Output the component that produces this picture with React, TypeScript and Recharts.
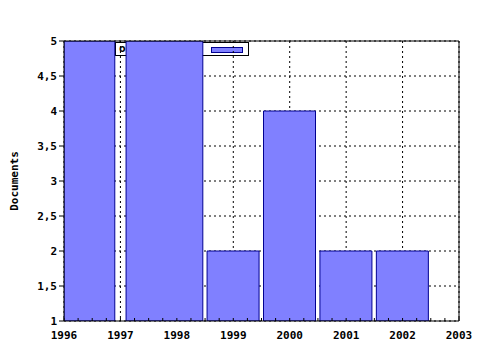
import React from 'react';
import { ComposedChart, Bar, XAxis, YAxis, CartesianGrid, ReferenceArea, Legend } from 'recharts';

const years = [1999, 2000, 2001, 2002];
const documents = [2, 4, 2, 2];

// the two early bars run past the top of the scale, only their extent is visible
const clippedFrom = [1996, 1997.1];
const clippedTo = [1996.9, 1998.46];
const clippedTop = [5, 5];

const xTicks = [1996, 1997, 1998, 1999, 2000, 2001, 2002, 2003];
const yTicks = [1, 1.5, 2, 2.5, 3, 3.5, 4, 4.5, 5];
const seriesName = 'occurrences';

const BAR_FILL = '#8080ff';
const BAR_STROKE = '#000090';
const FONT = '"DejaVu Sans Mono", monospace';

// quarter-year minor ticks between the labelled years
const minorTicks = xTicks.flatMap((t, i) =>
  i < xTicks.length - 1 ? [t, t + 0.25, t + 0.5, t + 0.75] : [t]
);

const data = years.map((year, i) => ({ year, documents: documents[i] }));

const tickStyle = { fill: '#000', fontFamily: FONT, fontWeight: 'bold', fontSize: 11 };

const LegendBox = () => (
  <div
    style={{
      width: 132,
      height: 12,
      border: '1px solid #000',
      background: '#fff',
      position: 'relative',
      fontFamily: FONT,
      fontWeight: 'bold',
      fontSize: 11,
      lineHeight: '12px',
    }}
  >
    <span style={{ position: 'absolute', left: 3, top: 0 }}>{seriesName}</span>
    <div
      style={{
        position: 'absolute',
        left: 95,
        top: 4,
        width: 30,
        height: 4,
        background: BAR_FILL,
        border: `1px solid ${BAR_STROKE}`,
      }}
    />
  </div>
);

export default function App() {
  return (
    <div style={{ position: 'absolute', left: 0, top: 0, width: 480, height: 350 }}>
      <ComposedChart
        width={480}
        height={350}
        data={data}
        margin={{ top: 40, right: 20, bottom: 0, left: 0 }}
      >
        <CartesianGrid stroke="#000" strokeDasharray="2 3" verticalValues={xTicks} horizontalValues={yTicks} />
        <XAxis
          dataKey="year"
          type="number"
          domain={[1996, 2003]}
          ticks={minorTicks}
          interval={0}
          height={29}
          allowDataOverflow
          tickFormatter={(v: number) => (Number.isInteger(v) ? String(v) : '')}
          tickSize={-3}
          tickMargin={13}
          tick={tickStyle}
          stroke="#000"
        />
        <XAxis
          xAxisId="top"
          orientation="top"
          type="number"
          domain={[1996, 2003]}
          ticks={minorTicks}
          interval={0}
          height={1}
          tickSize={-3}
          tick={false}
          stroke="#000"
        />
        <YAxis
          domain={[1, 5]}
          ticks={yTicks}
          interval={0}
          width={64}
          allowDataOverflow
          tickSize={5}
          tickMargin={2}
          tick={tickStyle}
          stroke="#000"
          tickFormatter={(v: number) => String(v).replace('.', ',')}
          label={{
            value: 'Documents',
            angle: -90,
            position: 'insideLeft',
            offset: 14,
            style: { fill: '#000', fontFamily: FONT, fontWeight: 'bold', fontSize: 11, textAnchor: 'middle' },
          }}
        />
        <YAxis
          yAxisId="right"
          orientation="right"
          domain={[1, 5]}
          width={1}
          tick={false}
          tickLine={false}
          stroke="#000"
        />
        <Legend
          layout="horizontal"
          verticalAlign="middle"
          align="center"
          content={<LegendBox />}
          wrapperStyle={{ position: 'absolute', left: 115, top: 42, width: 134, height: 14, zIndex: -1 }}
        />
        {clippedFrom.map((from, i) => (
          <ReferenceArea
            key={from}
            x1={from}
            x2={clippedTo[i]}
            y1={1}
            y2={clippedTop[i]}
            fill={BAR_FILL}
            fillOpacity={1}
            stroke={BAR_STROKE}
            strokeWidth={1}
            ifOverflow="hidden"
          />
        ))}
        <Bar
          dataKey="documents"
          name={seriesName}
          fill={BAR_FILL}
          stroke={BAR_STROKE}
          barSize={52}
          isAnimationActive={false}
        />
      </ComposedChart>
    </div>
  );
}
